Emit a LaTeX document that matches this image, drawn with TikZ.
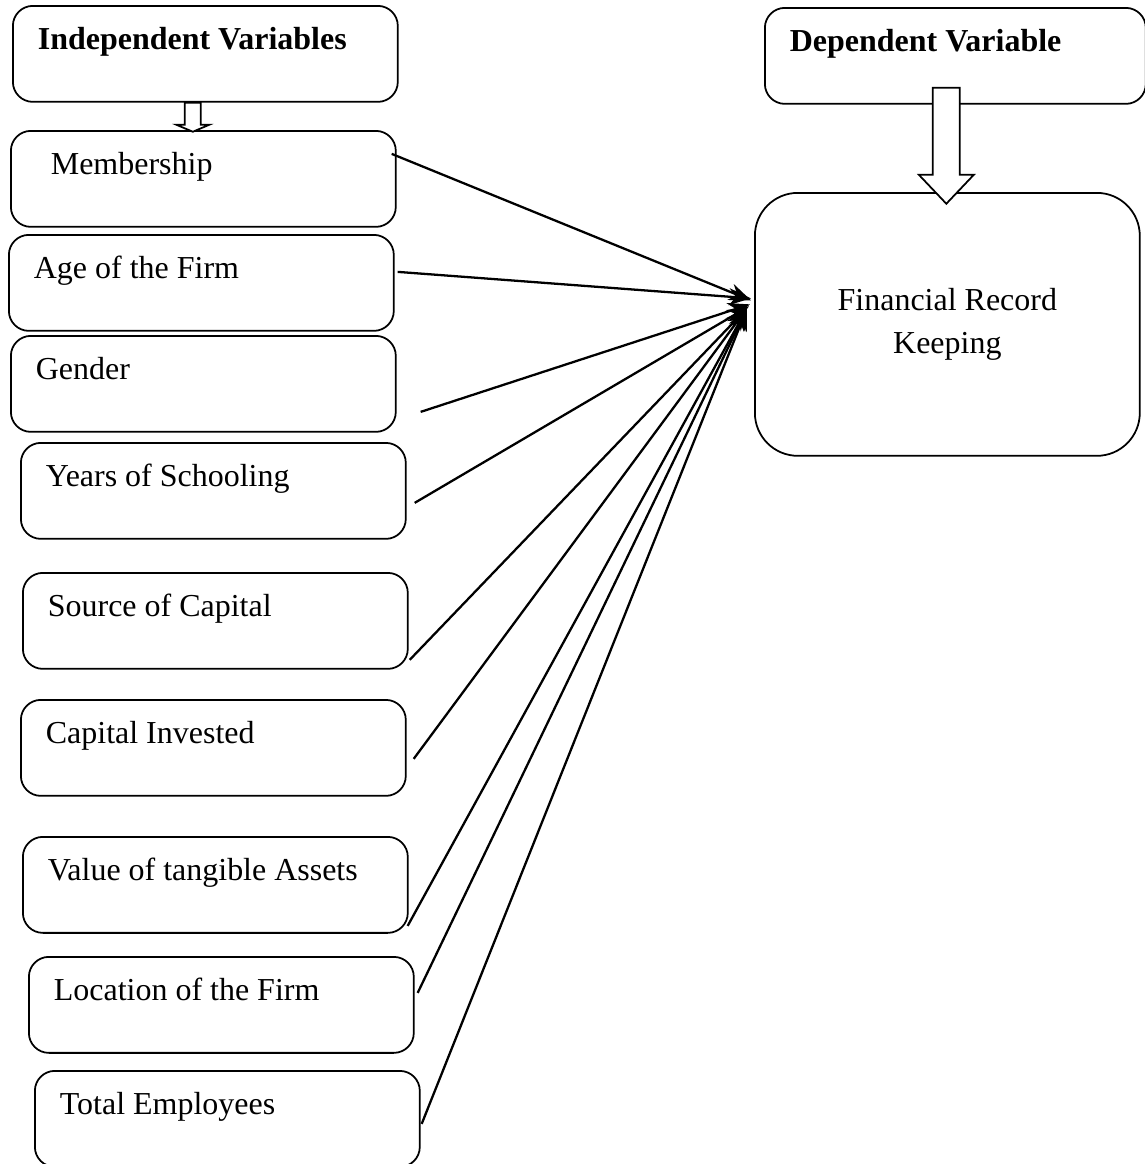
\documentclass[tikz,border=0pt]{standalone}
\usepackage{fontspec}
\setmainfont{Liberation Serif}
\usetikzlibrary{arrows.meta}
\newcommand{\boxfont}{\fontsize{18.2}{24}\selectfont}

\begin{document}
\begin{tikzpicture}[x=0.02cm, y=-0.02cm,
    varbox/.style={draw, line width=1pt, rounded corners=0.4cm, anchor=north west,
        minimum width=7.7cm, text width=6.7cm, inner xsep=0.5cm, inner ysep=0pt,
        text height=0.88cm, text depth=1.04cm, font=\boxfont,
        execute at begin node={\spaceskip=0pt\xspaceskip=0pt}},
    outcome/.style={draw, line width=1pt, rounded corners=0.86cm, anchor=north west,
        minimum width=7.7cm, minimum height=5.26cm, align=center, font=\boxfont},
    hollow/.style={draw, fill=white, line width=1pt},
    feed/.style={line width=1.3pt, -{Stealth[length=4.4mm, width=3.4mm]}}]
    \useasboundingbox (0,0) rectangle (1144,1164);
    % headings
    \node[varbox] (indep) at (12,5) {\textbf{Independent Variables}};
    \node[varbox, minimum width=7.62cm, text width=6.62cm] (dep) at (764,7) {\textbf{Dependent Variable}};
    \node[outcome] (frk) at (754,192) {Financial Record\\Keeping};
    % independent variables
    \foreach \name/\px/\py/\txt in {memb/10/130/{\hspace*{0.3cm}Membership},
        age/8/234/Age of the Firm, gender/10/335/Gender, years/20/442/Years of Schooling,
        source/22/572/Source of Capital, capinv/20/699/Capital Invested,
        value/22/836/Value of tangible Assets, loc/28/956/Location of the Firm,
        total/34/1070/Total Employees}
        \node[varbox] (\name) at (\px,\py) {\txt};
    % block arrows
    \draw[hollow] ([shift={(-12.5,0)}]indep.south) ++(-8,0) -- ++(0,22) -- ++(-8.5,0)
        -- ++(16.5,7) -- ++(16.5,-7) -- ++(-8.5,0) -- ++(0,-22) -- cycle;
    \draw[hollow] ([shift={(-9,-17)}]dep.south) ++(-13.5,0) -- ++(0,87) -- ++(-14,0)
        -- ++(27.5,29) -- ++(27.5,-29) -- ++(-14,0) -- ++(0,-87) -- cycle;
    % arrows into the outcome
    \foreach \src/\sx/\sy/\ex/\ey in {memb/-5/-25/-3/-24, age/3/-11/-3/-26,
        gender/24/28/-4/-20, years/8/12/-5/-18, source/1/39/-7/-16,
        capinv/7/11/-7/-16, value/-1/41/-7/-16, loc/3/-12/-7/-16, total/1/5/-7/-16}
        \draw[feed] ([shift={(\sx,\sy)}]\src.east) -- ([shift={(\ex,\ey)}]frk.west);
\end{tikzpicture}
\end{document}
